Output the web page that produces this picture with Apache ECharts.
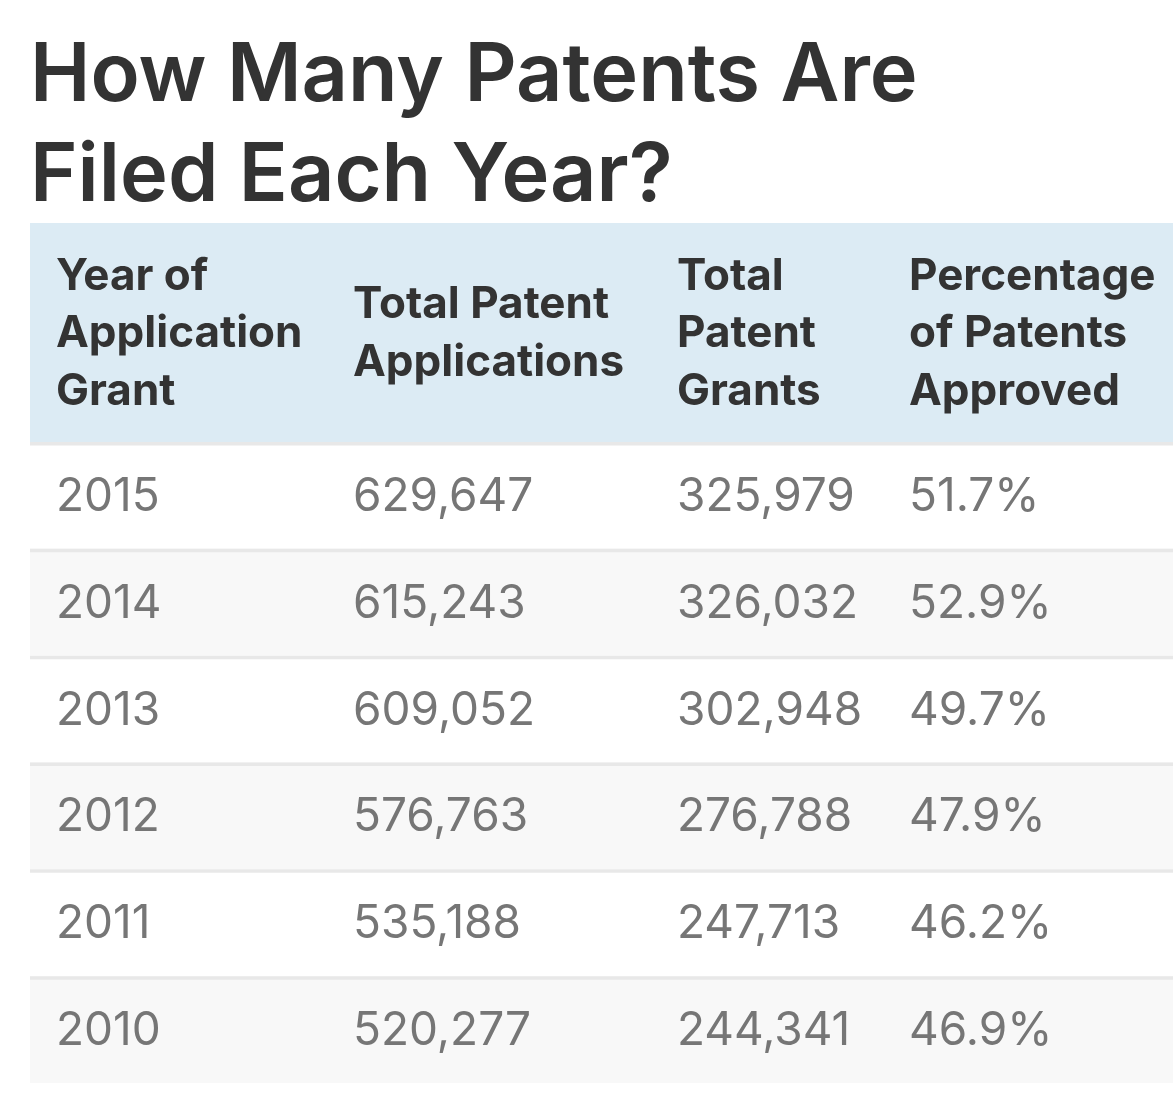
<!DOCTYPE html>
<html>
<head>
<meta charset="utf-8">
<script src="https://cdn.jsdelivr.net/npm/echarts@6/dist/echarts.min.js"></script>
<style>
  html, body { margin: 0; padding: 0; background: #fff; }
  #main { width: 1173px; height: 1105px; }
</style>
</head>
<body>
<div id="main"></div>
<script>
var years = ['2015', '2014', '2013', '2012', '2011', '2010'];
var applications = [629647, 615243, 609052, 576763, 535188, 520277];
var grants = [325979, 326032, 302948, 276788, 247713, 244341];
var approved = [51.7, 52.9, 49.7, 47.9, 46.2, 46.9];
var headers = ['Year of\nApplication\nGrant', 'Total Patent\nApplications', 'Total\nPatent\nGrants', 'Percentage\nof Patents\nApproved'];

var FONT = 'Inter, "Noto Sans", sans-serif';
var colX = [26, 323, 647, 879];   // column text offsets from table left
var tableLeft = 30;

var myChart = echarts.init(document.getElementById('main'));

function fmt(n) {
    return n.toLocaleString('en-US');
}

var rows = years.map(function (y, i) {
    return [i, y, fmt(applications[i]), fmt(grants[i]), approved[i].toFixed(1) + '%'];
});

var headerTexts = headers.map(function (h, j) {
    return {
        type: 'text',
        x: tableLeft + colX[j],
        y: 334,
        style: {
            text: h,
            font: '700 44px ' + FONT,
            fill: '#333',
            lineHeight: 57.5,
            verticalAlign: 'middle',
            textAlign: 'left'
        }
    };
});

var option = {
    animation: false,
    backgroundColor: '#fff',
    title: {
        text: 'How Many Patents Are\nFiled Each Year?',
        left: 25,
        top: 22,
        textStyle: {
            fontFamily: FONT,
            fontSize: 81,
            fontWeight: 600,
            lineHeight: 100,
            color: '#333'
        }
    },
    graphic: [
        {
            type: 'rect',
            shape: { x: tableLeft, y: 223, width: 1173 - tableLeft, height: 219 },
            style: { fill: '#dcebf4' }
        }
    ].concat(headerTexts),
    grid: {
        left: tableLeft,
        right: 0,
        top: 442,
        bottom: 22
    },
    xAxis: {
        type: 'value',
        min: 0,
        max: 1143,
        show: false
    },
    yAxis: {
        type: 'category',
        inverse: true,
        data: years,
        show: false
    },
    series: [
        {
            type: 'custom',
            data: rows,
            encode: { y: 0 },
            renderItem: function (params, api) {
                var idx = api.value(0);
                var c = api.coord([0, idx]);
                var h = api.size([0, 1])[1];
                var top = c[1] - h / 2;
                var left = params.coordSys.x;
                var w = params.coordSys.width;
                var sep = 3.5;
                var mid = top + sep + (h - sep) / 2;
                var children = [
                    {
                        type: 'rect',
                        shape: { x: left, y: top, width: w, height: h },
                        style: { fill: idx % 2 === 1 ? '#f8f8f8' : '#ffffff' }
                    },
                    {
                        type: 'rect',
                        shape: { x: left, y: top, width: w, height: sep },
                        style: { fill: '#e8e8e8' }
                    }
                ];
                for (var j = 0; j < 4; j++) {
                    children.push({
                        type: 'text',
                        x: left + colX[j],
                        y: mid,
                        style: {
                            text: rows[idx][j + 1],
                            font: '400 46px ' + FONT,
                            fill: '#767676',
                            verticalAlign: 'middle',
                            textAlign: 'left'
                        }
                    });
                }
                return { type: 'group', children: children };
            }
        }
    ]
};
myChart.setOption(option);
</script>
</body>
</html>
